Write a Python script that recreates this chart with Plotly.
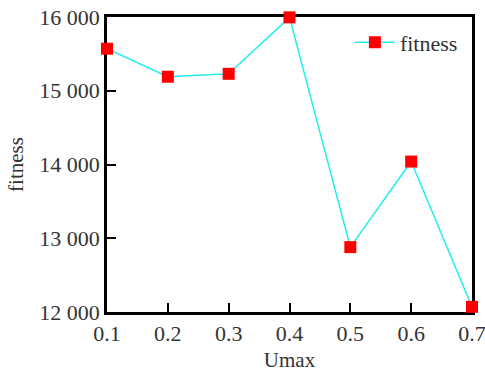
import plotly.graph_objects as go

umax = [0.1, 0.2, 0.3, 0.4, 0.5, 0.6, 0.7]
fitness = [15570, 15190, 15230, 15995, 12880, 14040, 12070]
y_ticks = [12000, 13000, 14000, 15000, 16000]
y_labels = ["12 000", "13 000", "14 000", "15 000", "16 000"]
x_ticks = [0.1, 0.2, 0.3, 0.4, 0.5, 0.6, 0.7]

font = "Liberation Serif"

fig = go.Figure()
fig.add_trace(go.Scatter(
    x=umax, y=fitness, mode="lines+markers", name="fitness",
    line=dict(color="#22eeee", width=1.5),
    marker=dict(symbol="square", size=12, color="#ff0000"),
    cliponaxis=False,
))
fig.update_layout(
    width=485, height=374,
    margin=dict(l=107, r=13, t=17, b=62, autoexpand=False),
    paper_bgcolor="white", plot_bgcolor="white",
    font=dict(family=font, size=22, color="#333333"),
    showlegend=True,
    legend=dict(x=0.975, y=0.985, xanchor="right", yanchor="top",
                bgcolor="rgba(0,0,0,0)", font=dict(family=font, size=22),
                itemwidth=40),
    xaxis=dict(range=[0.1, 0.7], tickvals=x_ticks, ticktext=["0.1","0.2","0.3","0.4","0.5","0.6","0.7"],
               ticks="inside", ticklen=9, tickwidth=2, tickcolor="black",
               showline=True, linecolor="black", linewidth=2.5, mirror=True,
               showgrid=False, zeroline=False, automargin=False,
               layer="below traces",
               ticklabeloverflow="allow",
               tickfont=dict(family=font, size=22),
               title=dict(text="Umax", font=dict(family=font, size=21), standoff=8)),
    yaxis=dict(range=[12000, 16000], tickvals=y_ticks, ticktext=y_labels,
               ticks="inside", ticklen=9, tickwidth=2, tickcolor="black",
               showline=True, linecolor="black", linewidth=2.5, mirror=True,
               showgrid=False, zeroline=False, automargin=False,
               layer="below traces",
               ticklabeloverflow="allow",
               tickfont=dict(family=font, size=22),
               title=dict(text="fitness", font=dict(family=font, size=21), standoff=10)),
)
fig.write_html("out.html", config={"displayModeBar": False},
               post_script="document.body.style.margin='0';document.body.style.padding='0';")
